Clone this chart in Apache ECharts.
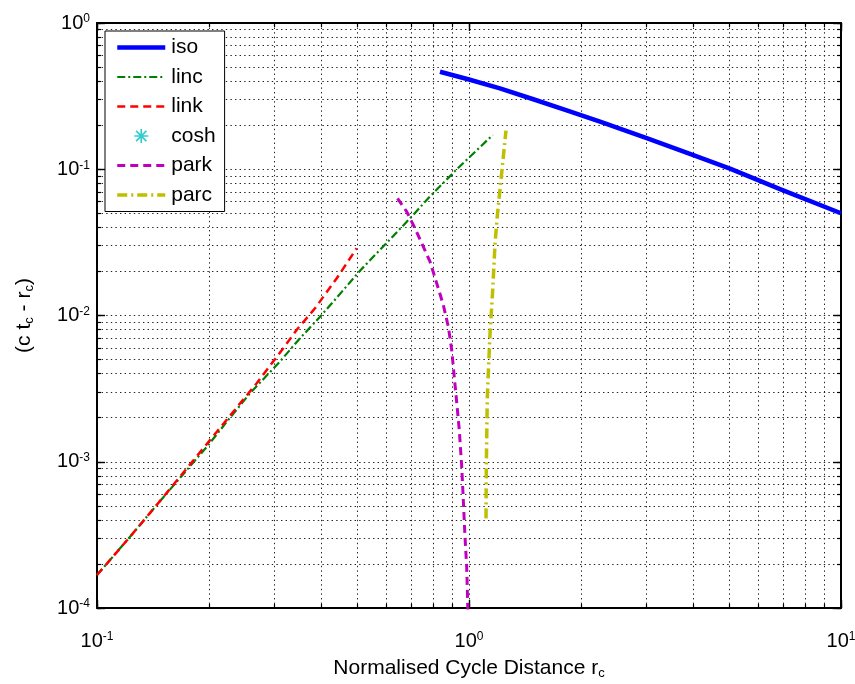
<!DOCTYPE html>
<html><head><meta charset="utf-8">
<script src="https://cdn.jsdelivr.net/npm/echarts@6/dist/echarts.min.js"></script>
<style>html,body{margin:0;padding:0;background:#fff}#c{width:855px;height:684px}</style>
</head><body><div id="c"></div>
<script>
// ---- data ----
const xDecades = [0.1, 1, 10];
const yDecades = [1e-4, 1e-3, 1e-2, 1e-1, 1];
const seriesNames = ['iso', 'linc', 'link', 'cosh', 'park', 'parc'];

const isoX = [0.8356, 1.0, 1.211, 1.489, 1.831, 2.250, 3.004, 4.009, 5.030, 6.855, 10];
const isoY = [0.4645, 0.411, 0.3577, 0.301, 0.253, 0.2114, 0.163, 0.125, 0.101, 0.0731, 0.050];

const lincX = [0.1, 0.1227, 0.1447, 0.1992, 0.2233, 0.2578, 0.3072, 0.3513, 0.4018, 0.5116, 0.553, 0.626, 0.708, 0.777, 0.917, 1.158];
const lincY = [1.68e-4, 3.07e-4, 5.06e-4, 1.302e-3, 1.878e-3, 2.94e-3, 4.71e-3, 6.98e-3, 1.008e-2, 2.048e-2, 0.0252, 0.0350, 0.0487, 0.0633, 0.0973, 0.1715];

const linkX = [0.1, 0.1227, 0.1447, 0.1931, 0.2325, 0.2687, 0.3168, 0.344, 0.3855, 0.441, 0.499];
const linkY = [1.68e-4, 3.07e-4, 5.06e-4, 1.236e-3, 2.20e-3, 3.44e-3, 5.97e-3, 7.96e-3, 1.120e-2, 1.796e-2, 2.881e-2];

const coshX = [];
const coshY = [];

const parkX = [0.6424, 0.680, 0.7157, 0.7536, 0.7857, 0.8188, 0.8531, 0.8798, 0.8985, 0.9227, 0.9417, 0.9559, 0.9654, 0.9755, 0.9858, 0.9919, 0.9935];
const parkY = [0.0633, 0.0513, 0.0395, 0.02954, 0.02333, 0.01661, 0.0118, 8.38e-3, 5.81e-3, 2.86e-3, 1.649e-3, 9.25e-4, 5.48e-4, 3.07e-4, 1.916e-4, 1.076e-4, 8e-5];

const parcX = [1.111, 1.113, 1.120, 1.139, 1.158, 1.175, 1.191, 1.211, 1.224, 1.257];
const parcY = [4.10e-4, 9.02e-4, 2.78e-3, 7.55e-3, 0.01494, 0.03117, 0.0474, 0.0721, 0.0939, 0.1835];

// ---- styles ----
const lineStyles = {
  iso:  { color: '#0000FF', width: 4.5, type: 'solid' },
  linc: { color: '#008000', width: 2.2, type: [8, 3, 2, 3] },
  link: { color: '#FF0000', width: 2.5, type: [8, 5] },
  park: { color: '#BF00BF', width: 3, type: [8, 5] },
  parc: { color: '#BFBF00', width: 3.5, type: [10, 4, 2, 4] }
};

// ---- helpers ----
function pairs(xs, ys) { return xs.map((x, i) => [x, ys[i]]); }
function minorValues(decs) {
  const out = [];
  for (let i = 0; i < decs.length; i++) {
    const d = decs[i];
    if (i === decs.length - 1) { out.push(d); break; }
    for (let k = 1; k < 10; k++) out.push(+(d * k).toPrecision(6));
  }
  return out;
}
const xMinor = minorValues(xDecades);
const yMinor = minorValues(yDecades);
const FONT = '"Liberation Sans", Arial, Helvetica, sans-serif';
const powFmt = v => '{b|10}{s|' + Math.round(Math.log10(v)) + '}';
const powRich = {
  b: { fontSize: 20, lineHeight: 20, verticalAlign: 'bottom', color: '#000', fontFamily: FONT },
  s: { fontSize: 12, lineHeight: 12, verticalAlign: 'top', padding: [0, 0, 14, 0], color: '#000', fontFamily: FONT }
};
const black = '#000';
function baseAxis(extra) {
  return Object.assign({
    type: 'log', logBase: 10, gridIndex: 0,
    axisLine: { show: true, onZero: false, lineStyle: { color: black, width: 2 } },
    axisTick: { show: true, inside: true, length: 4, lineStyle: { color: black, width: 1.2 } },
    axisLabel: { show: false },
    splitLine: { show: false },
    minorTick: { show: false }
  }, extra);
}
const gridLine = { show: true, lineStyle: { color: '#222', width: 1, type: [1.4, 3.2] } };
const nameRich = {
  n: { fontSize: 21, lineHeight: 22, verticalAlign: 'top', color: '#000', fontFamily: FONT },
  sub: { fontSize: 13, lineHeight: 13, verticalAlign: 'bottom', padding: [16, 0, 0, 0], color: '#000', fontFamily: FONT }
};

const xAxes = [
  baseAxis({ position: 'bottom', min: xDecades[0], max: xDecades[xDecades.length - 1],
    axisTick: { show: true, inside: true, length: 4, customValues: xMinor, lineStyle: { color: black, width: 1.2 } },
    axisLabel: { show: true, customValues: xDecades, formatter: powFmt, rich: powRich, margin: 23 },
    splitLine: gridLine,
    name: '{n|Normalised Cycle Distance r}{sub|c}', nameLocation: 'middle', nameGap: 50,
    nameMoveOverlap: false,
    nameTextStyle: { rich: nameRich } }),
  baseAxis({ position: 'bottom', min: xDecades[0], max: xDecades[xDecades.length - 1],
    axisLine: { show: false }, axisTick: { show: true, inside: true, length: 8, customValues: xDecades, lineStyle: { color: black, width: 1.4 } } }),
  baseAxis({ position: 'top', min: xDecades[0], max: xDecades[xDecades.length - 1],
    axisTick: { show: true, inside: true, length: 4, customValues: xMinor, lineStyle: { color: black, width: 1.2 } } }),
  baseAxis({ position: 'top', min: xDecades[0], max: xDecades[xDecades.length - 1],
    axisLine: { show: false }, axisTick: { show: true, inside: true, length: 8, customValues: xDecades, lineStyle: { color: black, width: 1.4 } } })
];
const yAxes = [
  baseAxis({ position: 'left', min: yDecades[0], max: yDecades[yDecades.length - 1],
    axisTick: { show: true, inside: true, length: 4, customValues: yMinor, lineStyle: { color: black, width: 1.2 } },
    axisLabel: { show: true, customValues: yDecades, formatter: powFmt, rich: powRich, margin: 7 },
    splitLine: gridLine,
    name: '{n|(c t}{sub|c}{n| - r}{sub|c}{n|)}', nameLocation: 'middle', nameGap: 61,
    nameMoveOverlap: false,
    nameTextStyle: { rich: nameRich } }),
  baseAxis({ position: 'left', min: yDecades[0], max: yDecades[yDecades.length - 1],
    axisLine: { show: false }, axisTick: { show: true, inside: true, length: 8, customValues: yDecades, lineStyle: { color: black, width: 1.4 } } }),
  baseAxis({ position: 'right', min: yDecades[0], max: yDecades[yDecades.length - 1],
    axisTick: { show: true, inside: true, length: 4, customValues: yMinor, lineStyle: { color: black, width: 1.2 } } }),
  baseAxis({ position: 'right', min: yDecades[0], max: yDecades[yDecades.length - 1],
    axisLine: { show: false }, axisTick: { show: true, inside: true, length: 8, customValues: yDecades, lineStyle: { color: black, width: 1.4 } } })
];

const asterisk = 'path://M4.4,0 L5.6,0 L5.6,10 L4.4,10 Z M0,4.4 L10,4.4 L10,5.6 L0,5.6 Z M0.9,1.75 L1.75,0.9 L9.1,8.25 L8.25,9.1 Z M8.25,0.9 L9.1,1.75 L1.75,9.1 L0.9,8.25 Z';

function lineSeries(name, xs, ys) {
  const st = lineStyles[name];
  return { name, type: 'line', xAxisIndex: 0, yAxisIndex: 0, data: pairs(xs, ys),
    showSymbol: false, symbol: 'none', clip: true, animation: false,
    lineStyle: { color: st.color, width: st.width, type: st.type, cap: 'butt', join: 'round' },
    itemStyle: { color: st.color } };
}

const legendData = seriesNames.map(n => n === 'cosh' ? { name: n } : {
  name: n, itemStyle: { opacity: 0 },
  lineStyle: { color: lineStyles[n].color, width: lineStyles[n].width, type: lineStyles[n].type }
});

const chart = echarts.init(document.getElementById('c'), null, { renderer: 'canvas' });
chart.setOption({
  animation: false,
  backgroundColor: '#fff',
  textStyle: { fontFamily: FONT },
  grid: { left: 97, right: 14, top: 23, bottom: 76, containLabel: false, outerBoundsMode: 'none' },
  xAxis: xAxes,
  yAxis: yAxes,
  legend: {
    orient: 'vertical', left: 105, top: 31,
    data: legendData,
    backgroundColor: '#fff', borderColor: '#000', borderWidth: 1,
    padding: [6, 9, 6, 10],
    itemWidth: 48, itemHeight: 14, itemGap: 8.5,
    textStyle: { fontSize: 21, lineHeight: 21, color: '#000', fontFamily: FONT, padding: [0, 0, 0, 1] },
    selectedMode: false
  },
  series: [
    lineSeries('iso', isoX, isoY),
    lineSeries('linc', lincX, lincY),
    lineSeries('link', linkX, linkY),
    { name: 'cosh', type: 'scatter', xAxisIndex: 0, yAxisIndex: 0, data: pairs(coshX, coshY),
      symbol: asterisk, symbolSize: 12, symbolKeepAspect: true, itemStyle: { color: '#00BFBF' } },
    lineSeries('park', parkX, parkY),
    lineSeries('parc', parcX, parcY)
  ]
});
</script></body></html>
